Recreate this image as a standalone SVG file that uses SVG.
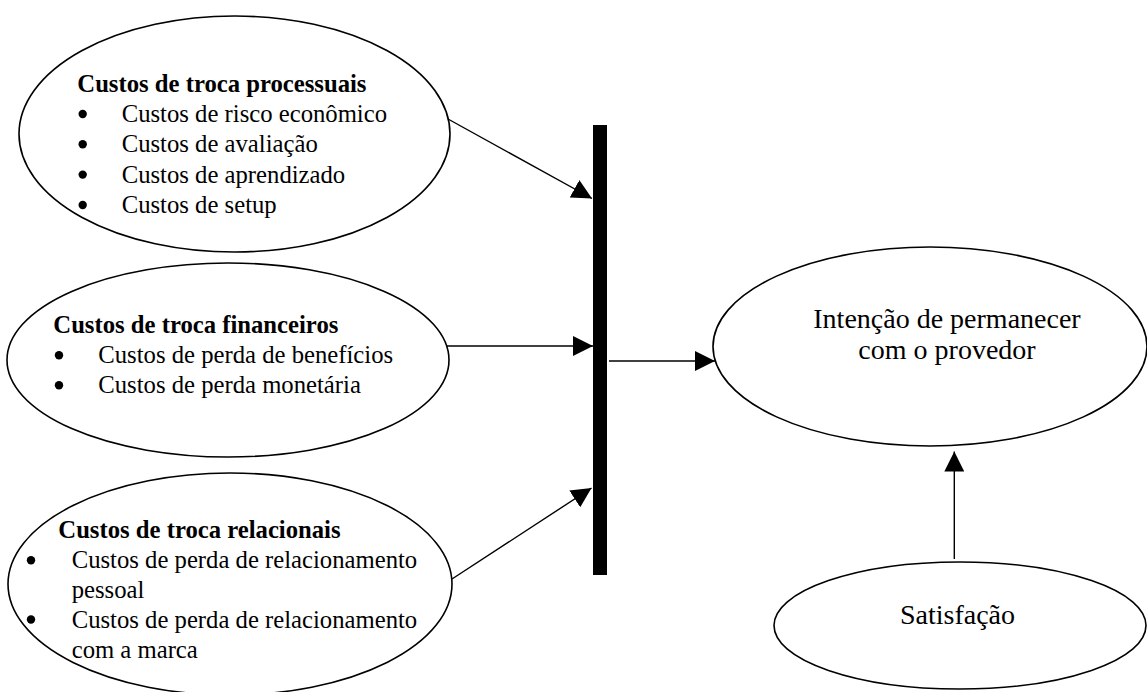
<svg xmlns="http://www.w3.org/2000/svg" width="1147" height="692" viewBox="0 0 1147 692">
<style>
.node ellipse{fill:#fff;stroke:#000;stroke-width:1.6}
.t{font-family:"Liberation Serif","Times New Roman",serif;font-size:24.7px;fill:#000}
.b{font-weight:bold}
.r{font-family:"Liberation Serif","Times New Roman",serif;font-size:28px;fill:#000;text-anchor:middle}
.dot{fill:#000}
.conn line{stroke:#000;stroke-width:1.4;marker-end:url(#ah)}
</style>
<defs>
<marker id="ah" markerUnits="userSpaceOnUse" markerWidth="20" markerHeight="20" refX="20" refY="10" orient="auto">
<path d="M0,0 L20,10 L0,20 z" fill="#000"/>
</marker>
</defs>
<g id="proc" class="node">
<ellipse cx="234.5" cy="134" rx="215.5" ry="118"/>
<text class="t b" x="77.3" y="92">Custos de troca processuais</text>
<circle class="dot" cx="82.7" cy="114" r="4.2"/>
<text class="t" x="121.7" y="122">Custos de risco econômico</text>
<circle class="dot" cx="82.7" cy="144.3" r="4.2"/>
<text class="t" x="121.7" y="152.3">Custos de avaliação</text>
<circle class="dot" cx="82.7" cy="174.6" r="4.2"/>
<text class="t" x="121.7" y="182.6">Custos de aprendizado</text>
<circle class="dot" cx="82.7" cy="205" r="4.2"/>
<text class="t" x="121.7" y="213">Custos de setup</text>
</g>
<g id="fin" class="node">
<ellipse cx="228" cy="360" rx="221" ry="97"/>
<text class="t b" x="53.3" y="333.3">Custos de troca financeiros</text>
<circle class="dot" cx="59" cy="355.3" r="4.2"/>
<text class="t" x="98.3" y="363.3">Custos de perda de benefícios</text>
<circle class="dot" cx="59" cy="385.3" r="4.2"/>
<text class="t" x="98.3" y="393.3">Custos de perda monetária</text>
</g>
<g id="rel" class="node">
<ellipse cx="230" cy="584" rx="222" ry="111"/>
<text class="t b" x="58.3" y="538.3">Custos de troca relacionais</text>
<circle class="dot" cx="31" cy="560.3" r="4.2"/>
<text class="t" x="71.7" y="568.3">Custos de perda de relacionamento</text>
<text class="t" x="71.7" y="598">pessoal</text>
<circle class="dot" cx="31" cy="619.5" r="4.2"/>
<text class="t" x="71.7" y="628.3">Custos de perda de relacionamento</text>
<text class="t" x="71.7" y="658.3">com a marca</text>
</g>
<g id="bar">
<rect x="593" y="125" width="14" height="450" fill="#000"/>
</g>
<g id="intencao" class="node">
<ellipse cx="930" cy="346.5" rx="217" ry="99.5"/>
<text class="r" x="947" y="328">Intenção de permanecer</text>
<text class="r" x="947" y="358.5">com o provedor</text>
</g>
<g id="satisfacao" class="node">
<ellipse cx="960" cy="625.5" rx="186" ry="63.5"/>
<text class="r" x="957.5" y="623.5">Satisfação</text>
</g>
<g id="connectors" class="conn">
<line x1="448" y1="119" x2="592" y2="198.5"/>
<line x1="447" y1="346" x2="593" y2="346"/>
<line x1="452" y1="579" x2="591.5" y2="488"/>
<line x1="609" y1="361" x2="715" y2="361"/>
<line x1="954.3" y1="559" x2="954.3" y2="451.5"/>
</g>
</svg>
